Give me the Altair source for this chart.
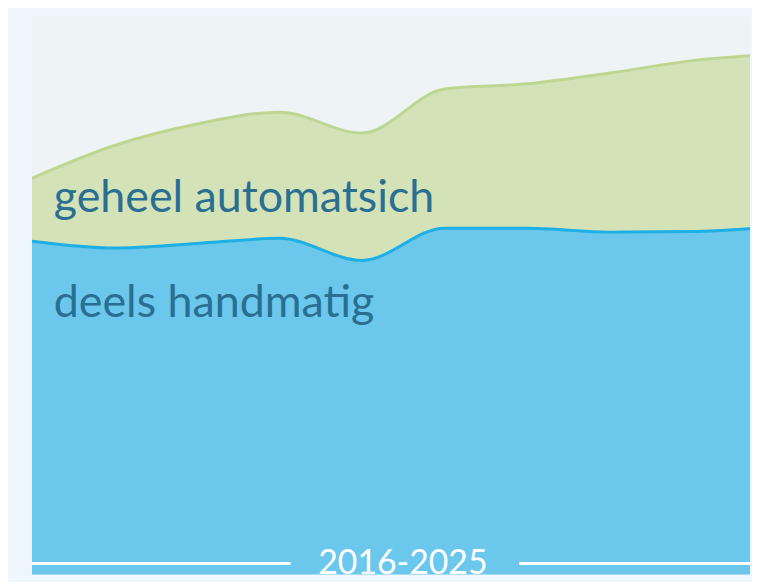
import altair as alt
import pandas as pd

years = [2016, 2017, 2018, 2019, 2020, 2021, 2022, 2023, 2024, 2025]
deels_handmatig = [60.3, 59.1, 59.9, 60.8, 56.9, 62.6, 62.6, 61.9, 62.0, 62.9]
geheel_automatisch = [11.1, 18.1, 21.1, 22.3, 22.5, 24.6, 25.5, 28.1, 30.2, 30.4]
series_names = ["deels handmatig", "geheel automatsich"]
period_label = "2016-2025"

rows = []
for i, y in enumerate(years):
    rows.append({"year": y, "series": series_names[0], "value": deels_handmatig[i], "ord": 0})
    rows.append({"year": y, "series": series_names[1], "value": geheel_automatisch[i], "ord": 1})
df = pd.DataFrame(rows)

W, H = 722, 561
x_scale = alt.Scale(domain=[2016, 2016 + W / 83.0], nice=False, zero=False)
y_scale = alt.Scale(domain=[100 - 100 * H / 569.0, 100], nice=False, zero=False)

fill_colors = ["#6bc7ec", "#d3e2b7"]
line_colors = ["#1eafe5", "#bdd793"]

base = alt.Chart(df)

areas = base.mark_area(interpolate="monotone", clip=True, opacity=1).encode(
    x=alt.X("year:Q", scale=x_scale, axis=None),
    y=alt.Y("value:Q", stack="zero", scale=y_scale, axis=None),
    color=alt.Color("series:N", scale=alt.Scale(domain=series_names, range=fill_colors), legend=None),
    order=alt.Order("ord:Q"),
)

lines = base.mark_line(interpolate="monotone", clip=True, strokeWidth=3).encode(
    x=alt.X("year:Q", scale=x_scale, axis=None),
    y=alt.Y("value:Q", stack="zero", scale=y_scale, axis=None),
    stroke=alt.Stroke("series:N", scale=alt.Scale(domain=series_names, range=line_colors), legend=None),
    order=alt.Order("ord:Q"),
)

label_df = pd.DataFrame({"label": [series_names[1], series_names[0]], "py": [197, 302]})
labels = alt.Chart(label_df).mark_text(
    align="left", baseline="alphabetic", font="Lato", fontSize=45, color="#2a6f91"
).encode(
    x=alt.value(22),
    y=alt.Y("py:Q", scale=None),
    text="label:N",
)

period_df = pd.DataFrame({"label": [period_label]})
period = alt.Chart(period_df).mark_text(
    align="center", baseline="alphabetic", font="Lato", fontSize=34, color="white"
).encode(x=alt.value(373), y=alt.value(560), text="label:N")

rule_left = alt.Chart(period_df).mark_rule(color="white", strokeWidth=3).encode(
    x=alt.value(0), x2=alt.value(260), y=alt.value(550)
)
rule_right = alt.Chart(period_df).mark_rule(color="white", strokeWidth=3).encode(
    x=alt.value(490), x2=alt.value(W), y=alt.value(550)
)

chart = alt.layer(areas, lines, labels, rule_left, rule_right, period).resolve_scale(
    color="independent"
).properties(
    width=W, height=H,
    background="#eff6fd",
    padding={"left": 22, "top": 7, "right": 0, "bottom": 0},
).configure_view(fill="#eef3f6", stroke=None)

chart.save("out.html", embed_options={"renderer": "svg", "actions": False})
